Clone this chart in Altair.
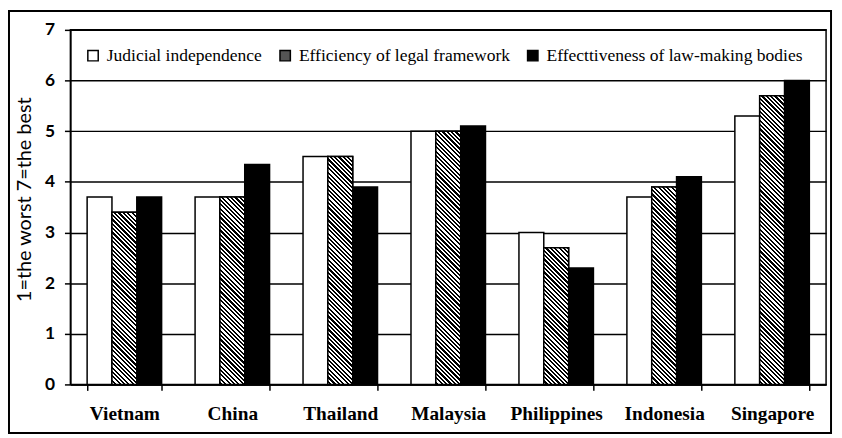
import altair as alt
import pandas as pd

countries = ["Vietnam", "China", "Thailand", "Malaysia", "Philippines", "Indonesia", "Singapore"]
series = ["Judicial independence", "Efficiency of legal framework", "Effecttiveness of law-making bodies"]
judicial = [3.7, 3.7, 4.5, 5.0, 3.0, 3.7, 5.3]
efficiency = [3.4, 3.7, 4.5, 5.0, 2.7, 3.9, 5.7]
effectiveness = [3.7, 4.34, 3.9, 5.1, 2.3, 4.1, 6.0]
y_ticks = [0, 1, 2, 3, 4, 5, 6, 7]
y_title = "1=the worst 7=the best"

W, H = 763, 358
YMAX = 7
PAD_IN = 0.31
SERIF = "Liberation Serif, Times New Roman, serif"
SANS = "Lato, Open Sans, sans-serif"

rows = []
for i, c in enumerate(countries):
    for s, vals in zip(series, [judicial, efficiency, effectiveness]):
        rows.append({"country": c, "series": s, "value": vals[i]})
df = pd.DataFrame(rows)

# bar width in px (for hatch gradient geometry)
step = W / (len(countries) - PAD_IN + PAD_IN)
bar_w = step * (1 - PAD_IN) / len(series)


def hatch(w, h, period=4.4, dark=0.5):
    L = w + h
    k = L / (w * w + h * h)
    stops = []
    n = int(L / period) + 1
    for j in range(n):
        a = min(j * period / L, 1.0)
        b = min((j + dark) * period / L, 1.0)
        c = min((j + 1) * period / L, 1.0)
        for off, col in [(a, "black"), (b, "black"), (b, "white"), (c, "white")]:
            stops.append(alt.GradientStop(offset=off, color=col))
    return alt.LinearGradient(gradient="linear", stops=stops,
                              x1=1, y1=0, x2=1 - w * k, y2=h * k)


x_enc = alt.X(
    "country:N",
    scale=alt.Scale(domain=countries, paddingInner=PAD_IN, paddingOuter=PAD_IN / 2),
    axis=alt.Axis(
        title=None, labelAngle=0, tickBand="extent", grid=False,
        labelFont=SERIF, labelFontSize=19.5, labelFontWeight="bold",
        labelColor="black", labelPadding=14, labelBaseline="top",
        tickColor="black", tickSize=6, tickWidth=1.5,
        domainColor="black", domainWidth=1.5,
    ),
)
xo_enc = alt.XOffset("series:N", scale=alt.Scale(domain=series, paddingInner=0, paddingOuter=0))
y_enc = alt.Y(
    "value:Q",
    scale=alt.Scale(domain=[0, YMAX], nice=False),
    axis=alt.Axis(
        values=y_ticks, title=y_title, format="d",
        grid=True, gridColor="black", gridWidth=1.5, gridOpacity=1,
        labelFont=SANS, labelFontSize=17.5, labelFontWeight="bold", labelColor="black",
        labelPadding=10,
        tickColor="black", tickSize=6, tickWidth=1.5,
        domainColor="black", domainWidth=1.5,
        titleFont=SANS, titleFontSize=20, titleFontWeight="normal", titleColor="black",
        titleX=-46, titleY=171, titleAngle=-90, titleAlign="center", titleBaseline="middle",
    ),
)

base = alt.Chart(df).mark_bar(stroke="black", strokeWidth=1.5).encode(
    x=x_enc,
    xOffset=xo_enc,
    y=y_enc,
    fill=alt.Fill(
        "series:N",
        scale=alt.Scale(domain=series, range=["white", "#555555", "black"]),
        legend=alt.Legend(title=None, labelFont=SERIF, labelFontSize=17.7),
    ),
)

overlays = []
for i, c in enumerate(countries):
    h = efficiency[i] * H / YMAX
    layer = (
        alt.Chart(df)
        .transform_filter((alt.datum.country == c) & (alt.datum.series == series[1]))
        .mark_bar(fill=hatch(bar_w, h), stroke="black", strokeWidth=1.5)
        .encode(x=x_enc, xOffset=xo_enc, y=y_enc)
    )
    overlays.append(layer)

frame = alt.Chart(pd.DataFrame({"f": [0]})).mark_rect(
    filled=False, stroke="black", strokeWidth=2
).encode(x=alt.value(-62), x2=alt.value(768), y=alt.value(-19), y2=alt.value(407))

chart = (
    alt.layer(base, *overlays, frame)
    .properties(
        width=W, height=H,
        padding={"left": 63, "top": 20, "right": 8, "bottom": 50},
        autosize=alt.AutoSizeParams(type="none"),
        background="white",
    )
    .configure_view(stroke="black", strokeWidth=1.5)
    .configure_legend(
        orient="none", legendX=14, legendY=17, direction="horizontal", padding=0,
        labelFont=SERIF, labelFontSize=17.7, labelColor="black", labelLimit=400,
        symbolType="square", symbolSize=110, symbolStrokeColor="black", symbolStrokeWidth=1.5,
        symbolOpacity=1, columnPadding=14, labelOffset=5,
    )
)

chart.save("out.html", embed_options={"renderer": "svg", "actions": False})
